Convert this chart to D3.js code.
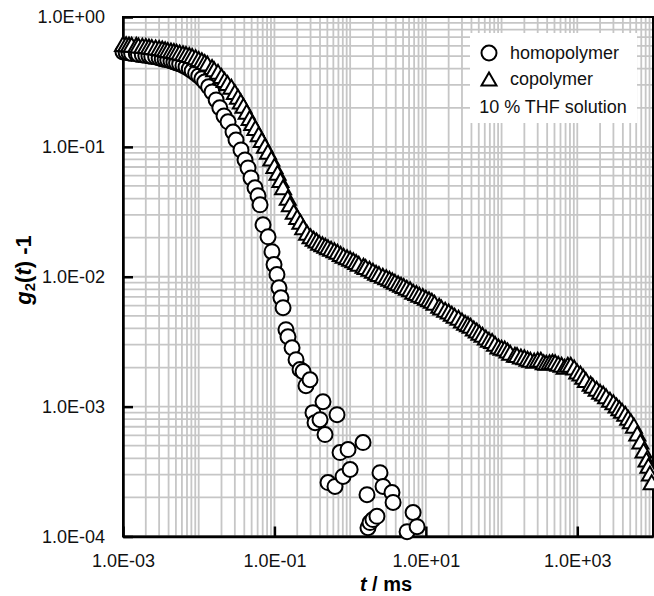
<!DOCTYPE html>
<html>
<head>
<meta charset="utf-8">
<script src="https://cdn.jsdelivr.net/npm/d3@7"></script>
<style>
  body { margin: 0; background: #fff; }
  svg { display: block; }
</style>
</head>
<body>
<svg id="chart" width="654" height="596"></svg>
<script>
// homopolymer (cercles), t en ms
const homoT = [0.0010, 0.0011, 0.0012, 0.0013, 0.0015, 0.0016, 0.0018, 0.0020, 0.0022, 0.0024, 0.0027, 0.0030,
  0.0033, 0.0036, 0.0039, 0.0043, 0.0047, 0.0051, 0.0056, 0.0062, 0.0068, 0.0075, 0.0082, 0.0091,
  0.010, 0.011, 0.012, 0.0135, 0.015, 0.017, 0.019, 0.0216, 0.0244, 0.0284, 0.0311, 0.0362, 0.0409, 0.0448, 0.0491, 0.0554,
  0.0607, 0.0646, 0.0707, 0.0823, 0.0929, 0.0988, 0.108, 0.115, 0.122, 0.130, 0.142, 0.151, 0.171, 0.193,
  0.218, 0.239, 0.261, 0.295, 0.323, 0.344, 0.400, 0.438, 0.466, 0.510, 0.631, 0.671, 0.736, 0.806, 0.938,
  1.00, 1.48, 1.67, 1.72, 1.83, 2.00, 2.26, 2.48, 2.72, 3.57, 3.69, 5.65, 6.78, 7.66]
const homoG = [0.538, 0.533, 0.529, 0.524, 0.519, 0.515, 0.510, 0.505, 0.501, 0.497, 0.492, 0.484,
  0.475, 0.471, 0.467, 0.459, 0.451, 0.443, 0.435, 0.424, 0.412, 0.398, 0.384, 0.368,
  0.352, 0.334, 0.316, 0.290, 0.265, 0.230, 0.200, 0.173, 0.156, 0.130, 0.113, 0.0948, 0.0794, 0.0689, 0.0577, 0.0484,
  0.0420, 0.0358, 0.0251, 0.0203, 0.0156, 0.0124, 0.0104, 0.00823, 0.00689, 0.00578, 0.00391, 0.00345, 0.00284, 0.00230,
  0.00193, 0.00186, 0.00145, 0.00161, 0.000899, 0.000753, 0.000794, 0.00109, 0.000609, 0.000260, 0.000243, 0.000867, 0.000443, 0.000290, 0.000467,
  0.000328, 0.000529, 0.000210, 0.000117, 0.000128, 0.000135, 0.000143, 0.000310, 0.000243, 0.000218, 0.000183, 0.000109, 0.000153, 0.000119]

// copolymer (triangles)
const copoT = [0.0010, 0.0011, 0.0012, 0.0013, 0.0015, 0.0016, 0.0018, 0.0020, 0.0022, 0.0024, 0.0027, 0.0030,
  0.0033, 0.0036, 0.0039, 0.0043, 0.0047, 0.0051, 0.0056, 0.0062, 0.0068, 0.0075, 0.0082, 0.0091,
  0.010, 0.011, 0.012, 0.013, 0.015, 0.016, 0.018, 0.020, 0.022, 0.024, 0.027, 0.030,
  0.033, 0.036, 0.039, 0.043, 0.047, 0.051, 0.056, 0.062, 0.068, 0.075, 0.082, 0.091,
  0.10, 0.11, 0.12, 0.13, 0.15, 0.16, 0.18, 0.20, 0.22, 0.24, 0.27, 0.30,
  0.33, 0.36, 0.39, 0.43, 0.47, 0.51, 0.56, 0.62, 0.68, 0.75, 0.82, 0.91,
  1.0, 1.1, 1.2, 1.3, 1.5, 1.6, 1.8, 2.0, 2.2, 2.4, 2.7, 3.0,
  3.3, 3.6, 3.9, 4.3, 4.7, 5.1, 5.6, 6.2, 6.8, 7.5, 8.2, 9.1,
  10, 11, 12, 13, 15, 16, 18, 20, 22, 24, 27, 30,
  33, 36, 39, 43, 47, 51, 56, 62, 68, 75, 82, 91,
  100, 110, 120, 130, 150, 160, 180, 200, 220, 240, 270, 300,
  330, 360, 390, 430, 470, 510, 560, 620, 680, 750, 820, 910,
  1000, 1100, 1200, 1300, 1500, 1600, 1800, 2000, 2200, 2400, 2700, 3000,
  3300, 3600, 3900, 4300, 4700, 5100, 5600, 6200, 6800, 7500, 8200, 8700, 9100, 9600]
const copoG = [0.620, 0.617, 0.614, 0.612, 0.610, 0.604, 0.600, 0.597, 0.593, 0.588, 0.582, 0.578,
  0.573, 0.565, 0.557, 0.552, 0.547, 0.541, 0.533, 0.526, 0.519, 0.510, 0.501, 0.489,
  0.475, 0.464, 0.451, 0.438, 0.412, 0.396, 0.378, 0.352, 0.328, 0.310, 0.290, 0.265,
  0.243, 0.224, 0.207, 0.186, 0.167, 0.153, 0.140, 0.125, 0.113, 0.102, 0.0916, 0.0812,
  0.0714, 0.0632, 0.0557, 0.0488, 0.0405, 0.0362, 0.0316, 0.0289, 0.0265, 0.0240, 0.0218, 0.0205,
  0.0196, 0.0190, 0.0183, 0.0178, 0.0173, 0.0169, 0.0164, 0.0160, 0.0156, 0.0150, 0.0145, 0.0141,
  0.01375, 0.0134, 0.0130, 0.0126, 0.01216, 0.0119, 0.01153, 0.0111, 0.01074, 0.0105, 0.01018, 0.0099,
  0.00966, 0.0094, 0.00916, 0.0089, 0.00868, 0.0085, 0.00823, 0.0080, 0.00767, 0.0075, 0.00728, 0.0071,
  0.00689, 0.0067, 0.00653, 0.0063, 0.00598, 0.0058, 0.00557, 0.0054, 0.00519, 0.0050, 0.00484, 0.0046,
  0.00443, 0.0043, 0.00420, 0.0040, 0.00385, 0.0037, 0.00358, 0.0034, 0.00327, 0.0032, 0.00305, 0.0029,
  0.00284, 0.0028, 0.00270, 0.0026, 0.00251, 0.0025, 0.00243, 0.0024, 0.00234, 0.0023, 0.00226, 0.0023,
  0.00230, 0.0022, 0.00218, 0.0022, 0.00222, 0.0022, 0.00214, 0.0021, 0.00203, 0.0021, 0.00210, 0.0020,
  0.00186, 0.0018, 0.00170, 0.0016, 0.00150, 0.00145, 0.00137, 0.0013, 0.00126, 0.0012, 0.00113, 0.00108,
  0.00102, 0.00097, 0.000931, 0.00088, 0.000822, 0.00077, 0.000714, 0.00062, 0.000538, 0.00046, 0.000391, 0.000350, 0.000305, 0.000262]

// étiquettes des axes
const xLabels = [1e-3, 1e-1, 1e1, 1e3]
const yLabels = [1e0, 1e-1, 1e-2, 1e-3, 1e-4]
const legendItems = ['homopolymer', 'copolymer']
const legendNote = '10 % THF solution'

const POLICE = 'Arial, "Liberation Sans", sans-serif'
const COULEUR_GRILLE = '#c6c6c6'
const COULEUR_TEXTE = '#111'
const LEFT = 123, TOP = 17, RIGHT = 653, BOTTOM = 536.5

const svg = d3.select('#chart')

const x = d3.scaleLog().domain([1e-3, 1e4]).range([LEFT, RIGHT])
const y = d3.scaleLog().domain([1e-4, 1]).range([BOTTOM, TOP])

const fmtE = d => {
  const e = Math.round(Math.log10(d))
  return '1.0E' + (e < 0 ? '-' : '+') + String(Math.abs(e)).padStart(2, '0')
}

//Grille (majeure + mineure)
const grille = svg.append('g').attr('class', 'grille')
  .attr('stroke', COULEUR_GRILLE).attr('stroke-width', 1.8)
grille.selectAll('.gx').data(x.ticks()).join('line')
  .attr('x1', d => x(d)).attr('x2', d => x(d)).attr('y1', TOP).attr('y2', BOTTOM)
grille.selectAll('.gy').data(y.ticks()).join('line')
  .attr('y1', d => y(d)).attr('y2', d => y(d)).attr('x1', LEFT).attr('x2', RIGHT)

//Cadre
svg.append('rect').attr('x', LEFT).attr('y', TOP).attr('width', RIGHT - LEFT).attr('height', BOTTOM - TOP)
  .attr('fill', 'none').attr('stroke', 'black').attr('stroke-width', 2)

//Axes (ticks vers l'intérieur)
svg.append('g').attr('transform', 'translate(0,' + BOTTOM + ')')
  .call(d3.axisBottom(x).tickValues(xLabels).tickFormat(fmtE).tickSizeInner(-10).tickSizeOuter(0).tickPadding(18))
  .call(g => g.select('.domain').attr('stroke-width', 2.5))
  .call(g => g.selectAll('.tick line').attr('stroke-width', 2.5))
  .call(g => g.selectAll('text').attr('font-family', POLICE).attr('font-size', 18).attr('fill', COULEUR_TEXTE))

svg.append('g').attr('transform', 'translate(' + LEFT + ',0)')
  .call(d3.axisLeft(y).tickValues(yLabels).tickFormat(fmtE).tickSizeInner(-10).tickSizeOuter(0).tickPadding(18))
  .call(g => g.select('.domain').attr('stroke-width', 2.5))
  .call(g => g.selectAll('.tick line').attr('stroke-width', 2.5))
  .call(g => g.selectAll('text').attr('font-family', POLICE).attr('font-size', 18).attr('fill', COULEUR_TEXTE))

//Marqueurs
const triangle = 'M0,-7L8,7L-8,7Z'
const homo = homoT.map((t, i) => [t, homoG[i]])
const copo = copoT.map((t, i) => [t, copoG[i]])

svg.append('g').selectAll('circle').data(homo).join('circle')
  .attr('cx', d => x(d[0])).attr('cy', d => y(d[1])).attr('r', 7.5)
  .attr('fill', 'white').attr('stroke', 'black').attr('stroke-width', 2)

svg.append('g').selectAll('path').data(copo).join('path')
  .attr('d', triangle).attr('transform', d => 'translate(' + x(d[0]) + ',' + y(d[1]) + ')')
  .attr('fill', 'white').attr('stroke', 'black').attr('stroke-width', 2)

//Légende
const legende = svg.append('g').attr('class', 'legende')
legende.append('rect').attr('x', 470).attr('y', 33).attr('width', 167).attr('height', 90).attr('fill', 'white')
legende.append('circle').attr('cx', 489).attr('cy', 53).attr('r', 7.5)
  .attr('fill', 'white').attr('stroke', 'black').attr('stroke-width', 2)
legende.append('path').attr('d', 'M0,-6.5L7.5,6.5L-7.5,6.5Z').attr('transform', 'translate(489,79)')
  .attr('fill', 'white').attr('stroke', 'black').attr('stroke-width', 2)
legende.selectAll('.item').data(legendItems).join('text')
  .attr('x', 510).attr('y', (d, i) => 59 + i * 26).text(d => d)
  .attr('font-family', POLICE).attr('font-size', 18).attr('fill', COULEUR_TEXTE)
legende.append('text').attr('x', 553).attr('y', 113).attr('text-anchor', 'middle').text(legendNote)
  .attr('font-family', POLICE).attr('font-size', 18).attr('fill', COULEUR_TEXTE)

//Titres des axes
const titreX = svg.append('text').attr('x', 386).attr('y', 591).attr('text-anchor', 'middle')
  .attr('font-family', POLICE).attr('font-size', 20).attr('font-weight', 'bold')
titreX.append('tspan').attr('font-style', 'italic').text('t')
titreX.append('tspan').text(' / ms')

const titreY = svg.append('text').attr('transform', 'translate(31,270) rotate(-90)').attr('text-anchor', 'middle')
  .attr('font-family', POLICE).attr('font-size', 22).attr('font-weight', 'bold')
titreY.append('tspan').attr('font-style', 'italic').text('g')
titreY.append('tspan').attr('font-size', 15).attr('dy', 4).text('2')
titreY.append('tspan').attr('dy', -4).text('(')
titreY.append('tspan').attr('font-style', 'italic').text('t')
titreY.append('tspan').text(') -1')
</script>
</body>
</html>
